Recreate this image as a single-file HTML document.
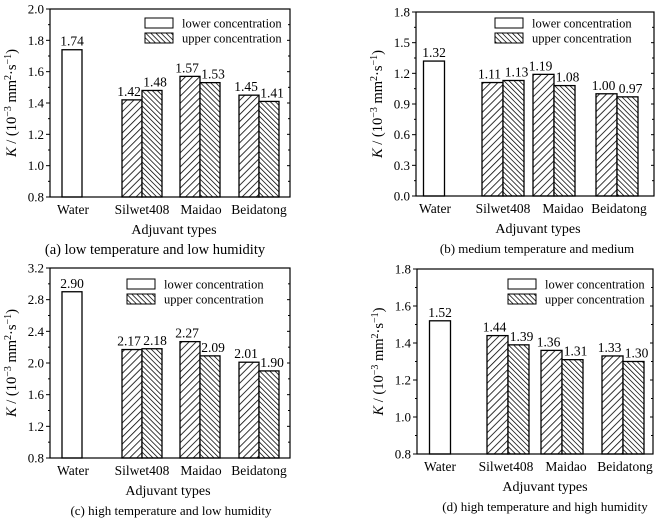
<!DOCTYPE html>
<html><head><meta charset="utf-8"><style>
html,body{margin:0;padding:0;background:#fff;}
svg{display:block;font-family:"Liberation Serif",serif;}
</style></head><body>
<svg id="fig" width="656" height="519" viewBox="0 0 656 519">
<defs>
<pattern id="hl" patternUnits="userSpaceOnUse" width="5" height="5" patternTransform="rotate(45)"><rect width="5" height="5" fill="#fff"/><line x1="0" y1="0" x2="0" y2="5" stroke="#000" stroke-width="1.6"/></pattern>
<pattern id="hu" patternUnits="userSpaceOnUse" width="3.6" height="3.6" patternTransform="rotate(-45)"><rect width="3.6" height="3.6" fill="#fff"/><line x1="0" y1="0" x2="0" y2="3.6" stroke="#000" stroke-width="1.5"/></pattern>
</defs>
</svg>
<script>
const categories=["Water","Silwet408","Maidao","Beidatong"];
const aLower=[1.74,1.42,1.57,1.45];
const aUpper=[null,1.48,1.53,1.41];
const aTicks=["0.8","1.0","1.2","1.4","1.6","1.8","2.0"];
const bLower=[1.32,1.11,1.19,1.00];
const bUpper=[null,1.13,1.08,0.97];
const bTicks=["0.0","0.3","0.6","0.9","1.2","1.5","1.8"];
const cLower=[2.90,2.17,2.27,2.01];
const cUpper=[null,2.18,2.09,1.90];
const cTicks=["0.8","1.2","1.6","2.0","2.4","2.8","3.2"];
const dLower=[1.52,1.44,1.36,1.33];
const dUpper=[null,1.39,1.31,1.30];
const dTicks=["0.8","1.0","1.2","1.4","1.6","1.8"];
const captions=["(a) low temperature and low humidity","(b) medium temperature and medium","(c) high temperature and low humidity","(d) high temperature and high humidity"];

const NS="http://www.w3.org/2000/svg";
const svg=document.getElementById("fig");
function mk(tag,attrs,parent,text){const e=document.createElementNS(NS,tag);for(const k in attrs)e.setAttribute(k,attrs[k]);if(text!==undefined)e.textContent=text;(parent||svg).appendChild(e);return e;}

function panel(id,box,ticks,lower,upper,caption,centers,bw,legX,legY,labelX,titleX,capX,capSize){
  const g=mk("g",{});
  
  
  const ymin=parseFloat(ticks[0]),ymax=parseFloat(ticks[ticks.length-1]);
  const y=v=>box.b-(v-ymin)/(ymax-ymin)*(box.b-box.t);
  ticks.forEach((t,i)=>{
    const yy=y(parseFloat(t));
    mk("line",{x1:box.l-4,x2:box.l,y1:yy,y2:yy,stroke:"#000","stroke-width":1},g);
    mk("line",{x1:box.r-3,x2:box.r,y1:yy,y2:yy,stroke:"#000","stroke-width":1},g);
    if(i<ticks.length-1){const ym=y((parseFloat(t)+parseFloat(ticks[i+1]))/2);
      mk("line",{x1:box.l-2,x2:box.l,y1:ym,y2:ym,stroke:"#000","stroke-width":1},g);
      mk("line",{x1:box.r-2,x2:box.r,y1:ym,y2:ym,stroke:"#000","stroke-width":1},g);}
    const tl=mk("text",{x:box.l-6,y:yy+4.5,"text-anchor":"end","font-size":13},g,t);
    
    
  });
  categories.forEach((c,i)=>{
    const cx=centers[i];
    if(upper[i]===null){
      const r=mk("rect",{x:cx-bw/2,y:y(lower[i]),width:bw,height:box.b-y(lower[i]),fill:"#fff",stroke:"#000","stroke-width":1.3},g);
      
      
      mk("text",{x:cx,y:y(lower[i])-4,"text-anchor":"middle","font-size":13.5},g,lower[i].toFixed(2));
    } else {
      const r1=mk("rect",{x:cx-bw,y:y(lower[i]),width:bw,height:box.b-y(lower[i]),fill:"url(#hl)",stroke:"#000","stroke-width":1.3},g);
      
      
      const r2=mk("rect",{x:cx,y:y(upper[i]),width:bw,height:box.b-y(upper[i]),fill:"url(#hu)",stroke:"#000","stroke-width":1.3},g);
      
      
      mk("text",{x:cx-bw/2-3,y:y(lower[i])-4,"text-anchor":"middle","font-size":13.5},g,lower[i].toFixed(2));
      mk("text",{x:cx+bw/2+3,y:y(upper[i])-4,"text-anchor":"middle","font-size":13.5},g,upper[i].toFixed(2));
    }
    const xl=mk("text",{x:labelX[i],y:box.b+17,"text-anchor":"middle","font-size":13.5},g,c);
    
    
  });
  mk("rect",{x:box.l,y:box.t,width:box.r-box.l,height:box.b-box.t,fill:"none",stroke:"#000","stroke-width":1.2},g);
  const lg=mk("g",{},g);
  
  
  mk("rect",{x:legX,y:legY,width:28,height:10,fill:"#fff",stroke:"#000","stroke-width":1},lg);
  mk("rect",{x:legX,y:legY+15,width:28,height:10,fill:"url(#hu)",stroke:"#000","stroke-width":1},lg);
  mk("text",{x:legX+37,y:legY+9.5,"font-size":12.5},lg,"lower concentration");
  mk("text",{x:legX+37,y:legY+24.5,"font-size":12.5},lg,"upper concentration");
  const mid=(box.t+box.b)/2, tx=box.l-34;
  const yt=mk("text",{x:0,y:0,"text-anchor":"middle","font-size":14.5,transform:`translate(${tx},${mid}) rotate(-90)`},g);
  
  
  yt.innerHTML='<tspan font-style="italic">K</tspan> / (10<tspan dy="-5" font-size="10">−3</tspan><tspan dy="5"> mm</tspan><tspan dy="-5" font-size="10">2</tspan><tspan dy="5">·s</tspan><tspan dy="-5" font-size="10">−1</tspan><tspan dy="5">)</tspan>';
  const xt=mk("text",{x:titleX,y:box.b+37,"text-anchor":"middle","font-size":14},g,"Adjuvant types");
  
  
  const cp=mk("text",{x:capX,y:box.b+57,"text-anchor":"middle","font-size":capSize},g,caption);
  
  
}
panel('a',{l:50,r:290,t:9,b:197},aTicks,aLower,aUpper,captions[0],[72,142,200,259],20,145,18,[73,142,201,259],174,155,14.5);
panel('b',{l:416,r:654,t:12,b:196},bTicks,bLower,bUpper,captions[1],[434,503,554,617],21,495,18,[435,503,563,619],538,537,13);
panel('c',{l:50,r:290,t:268,b:458},cTicks,cLower,cUpper,captions[2],[72,142,200,259],20,127,279,[73,142,201,259],168,171,13);
panel('d',{l:417,r:653,t:269,b:454},dTicks,dLower,dUpper,captions[3],[440,508,562,623],21,508,279,[440,506,566,625],545,545,13);
</script>
</body></html>
